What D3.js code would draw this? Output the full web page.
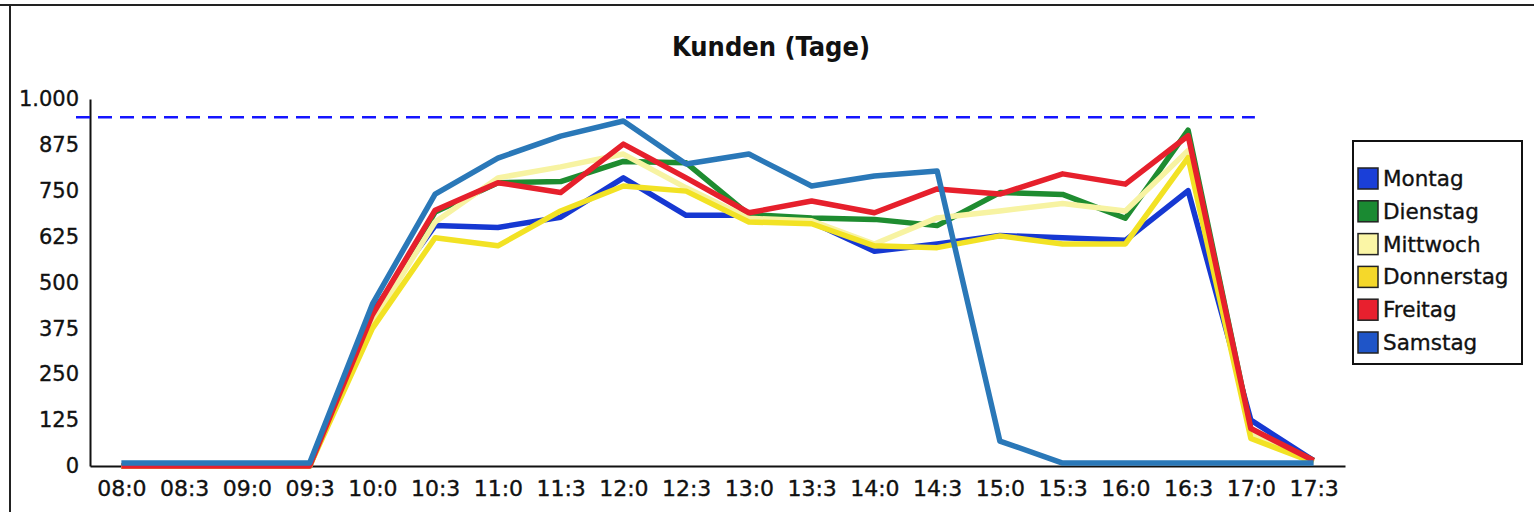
<!DOCTYPE html>
<html>
<head>
<meta charset="utf-8">
<script src="https://cdn.jsdelivr.net/npm/d3@7"></script>
<style>
  body { margin: 0; background: #fff; }
  svg { display: block; }
  text { font-family: "DejaVu Sans", Verdana, sans-serif; fill: #111; stroke: #111; stroke-width: 0.35px; }
</style>
</head>
<body>
<div id="chart"></div>
<script>
let width = 1534;
let height = 512;

// Kategorien (Uhrzeit, abgeschnitten wie im Original)
const times = ["08:0", "08:3", "09:0", "09:3", "10:0", "10:3", "11:0", "11:3", "12:0", "12:3",
  "13:0", "13:3", "14:0", "14:3", "15:0", "15:3", "16:0", "16:3", "17:0", "17:3"];

const days = ["Montag", "Dienstag", "Mittwoch", "Donnerstag", "Freitag", "Samstag"];

// Kunden je Tag und Zeit
const montag     = [0, 0, 0, 0, 420, 655, 650, 678, 785, 683, 683, 665, 585, 605, 628, 622, 615, 750, 125, 15];
const dienstag   = [0, 0, 0, 0, 405, 692, 772, 775, 830, 826, 685, 676, 672, 655, 745, 740, 675, 915, 100, 15];
const mittwoch   = [0, 0, 0, 0, 390, 665, 785, 815, 850, 758, 675, 668, 605, 676, 695, 715, 695, 860, 88, 12];
const donnerstag = [0, 0, 0, 0, 375, 622, 600, 695, 763, 749, 665, 660, 600, 595, 627, 605, 605, 840, 75, 10];
const freitag    = [0, 0, 0, 0, 412, 697, 772, 745, 877, 785, 690, 722, 690, 755, 741, 796, 768, 900, 102, 15];
const samstag    = [8, 8, 8, 8, 441, 741, 839, 899, 940, 823, 850, 763, 790, 804, 68, 8, 8, 8, 8, 8];

const series = [montag, dienstag, mittwoch, donnerstag, freitag, samstag];

// Zielwert (gestrichelte Linie)
const target = 950;

const yTicks = [0, 125, 250, 375, 500, 625, 750, 875, 1000];

const lineColors = ["#1638d2", "#1e8c30", "#f7f3a2", "#f2e224", "#e6202c", "#2a78b8"];
const swatchColors = ["#1a3fd8", "#1a8a32", "#fbf6a6", "#f5d82a", "#e8202e", "#1f55c8"];

const de = d3.formatLocale({ decimal: ",", thousands: ".", grouping: [3], currency: ["", " €"] });
const fmt = de.format(",d");

let svg = d3.select("#chart").append("svg")
  .attr("width", width)
  .attr("height", height);

// Rahmen (oben und links)
svg.append("line").attr("x1", 0).attr("x2", width).attr("y1", 5).attr("y2", 5)
  .attr("stroke", "#222").attr("stroke-width", 2);
svg.append("line").attr("x1", 10).attr("x2", 10).attr("y1", 5).attr("y2", height)
  .attr("stroke", "#222").attr("stroke-width", 2);

// Titel
svg.append("text")
  .attr("x", 771).attr("y", 56)
  .attr("text-anchor", "middle")
  .style("font-family", "'DejaVu Sans Condensed', 'DejaVu Sans', sans-serif")
  .style("font-weight", "bold")
  .style("font-size", "27px")
  .style("stroke-width", "0")
  .text("Kunden (Tage)");

let plotMargins = { top: 99, left: 90, right: 1534 - 1345, bottom: 512 - 466 };
let plotWidth = width - plotMargins.left - plotMargins.right;
let plotHeight = height - plotMargins.top - plotMargins.bottom;

let plot = svg.append("g")
  .attr("transform", `translate(${plotMargins.left},${plotMargins.top})`);

let xScale = d3.scalePoint().domain(times).range([0, plotWidth]).padding(0.5);
let yScale = d3.scaleLinear().domain([0, 1000]).range([plotHeight, 0]);

// y-Achse
let yAxis = d3.axisLeft(yScale).tickValues(yTicks).tickFormat(fmt).tickSize(0).tickPadding(11);
let yAxisGroup = plot.append("g").call(yAxis);
yAxisGroup.select(".domain").attr("stroke", "#111").attr("stroke-width", 2);
yAxisGroup.selectAll("text").style("font-size", "21px").attr("fill", "#111");

// x-Achse
let xAxis = d3.axisBottom(xScale).tickSize(0).tickPadding(14);
let xAxisGroup = plot.append("g").attr("transform", `translate(0,${plotHeight})`).call(xAxis);
xAxisGroup.select(".domain").attr("stroke", "#111").attr("stroke-width", 2);
xAxisGroup.selectAll("text").style("font-size", "22px").attr("fill", "#111");

// Ziel-Linie
plot.append("line")
  .attr("x1", -14)
  .attr("x2", xScale("17:0") + 4)
  .attr("y1", yScale(target))
  .attr("y2", yScale(target))
  .attr("stroke", "#1515ff")
  .attr("stroke-width", 2.5)
  .attr("stroke-dasharray", "14,8");

// Linien
let line = d3.line()
  .x((d, i) => xScale(times[i]))
  .y((d) => yScale(d));

plot.append("g").classed("lines", true)
  .selectAll("path")
  .data(series)
  .enter()
  .append("path")
  .attr("d", (d) => line(d))
  .attr("fill", "none")
  .attr("stroke", (d, i) => lineColors[i])
  .attr("stroke-width", 5.5)
  .attr("stroke-linejoin", "round");

// Legende
let legend = svg.append("g").attr("transform", "translate(1353,141)");
legend.append("rect")
  .attr("width", 169).attr("height", 223)
  .attr("fill", "#fff").attr("stroke", "#111").attr("stroke-width", 2);

let items = legend.selectAll(".item")
  .data(days)
  .enter()
  .append("g")
  .classed("item", true)
  .attr("transform", (d, i) => `translate(5,${37 + i * 32.8})`);

items.append("rect")
  .attr("x", 0).attr("y", -10)
  .attr("width", 20).attr("height", 21)
  .attr("fill", (d, i) => swatchColors[i])
  .attr("stroke", "#222").attr("stroke-width", 1.5);

items.append("text")
  .attr("x", 25).attr("y", 8)
  .style("font-size", "21.5px")
  .text((d) => d);
</script>
</body>
</html>
